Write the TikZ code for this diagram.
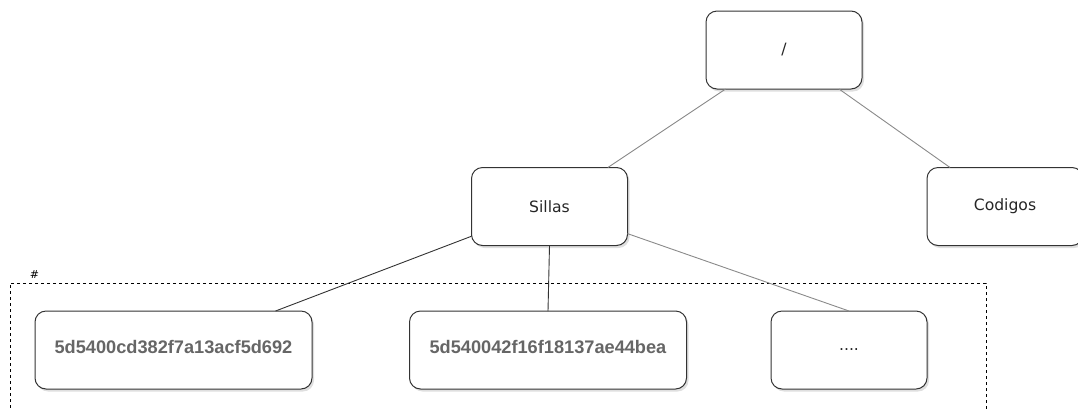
\documentclass[tikz,border=0pt]{standalone}
\usepackage{fontspec}
\setmainfont{DejaVu Sans}
\newfontfamily\helv{Liberation Sans}
\usetikzlibrary{shadows}
\definecolor{boxline}{HTML}{333333}
\definecolor{edgegray}{HTML}{8A8A8A}
\definecolor{edgedark}{HTML}{333333}
\definecolor{leaftext}{HTML}{666666}
\begin{document}
\begin{tikzpicture}[x=1pt,y=-1pt,
  treebox/.style={draw=boxline, line width=1pt, fill=white, rounded corners=11pt,
    minimum width=156pt, minimum height=78pt, inner sep=0pt, outer sep=0pt,
    drop shadow={opacity=0.25, shadow xshift=2pt, shadow yshift=-2.5pt},
    font=\fontsize{15.6}{18}\selectfont, text=black!85},
  leafbox/.style={treebox, minimum width=277pt},
  leaflabel/.style={font=\helv\bfseries\fontsize{18.2}{21}\selectfont, text=leaftext},
  grayedge/.style={draw=edgegray, line width=0.9pt},
  darkedge/.style={draw=edgedark, line width=0.9pt},
  groupbox/.style={draw=black, line width=0.8pt, dash pattern=on 3pt off 3pt,
    minimum width=976pt, minimum height=140pt, inner sep=0pt, outer sep=0pt}
]
\useasboundingbox (0,0) rectangle (1078,408);

% container
\node[groupbox] (group) at (498,353) {};
\node[font=\fontsize{11}{13}\selectfont, inner sep=0pt, anchor=center] (hash) at (34.5,275) {\#};

% tree nodes
\node[treebox] (root) at (784,50) {/};
\node[treebox] (sillas) at (549.5,206.5) {Sillas};
\node[treebox] (codigos) at (1005,206.5) {Codigos};

\node[leafbox] (leafa) at (173.5,350) {};
\node[leaflabel] (leafatext) at (173.5,347) {5d5400cd382f7a13acf5d692};
\node[leafbox] (leafb) at (548,350) {};
\node[leaflabel] (leafbtext) at (548,347) {5d540042f16f18137ae44bea};
\node[treebox] (leafc) at (849,350) {....};

% connectors
\draw[grayedge] (root) -- (sillas);
\draw[grayedge] (root) -- (codigos);
\draw[darkedge] (sillas) -- (leafa);
\draw[darkedge] (sillas.south) -- (leafb.north);
\draw[grayedge] (sillas) -- (leafc.north);
\end{tikzpicture}
\end{document}
